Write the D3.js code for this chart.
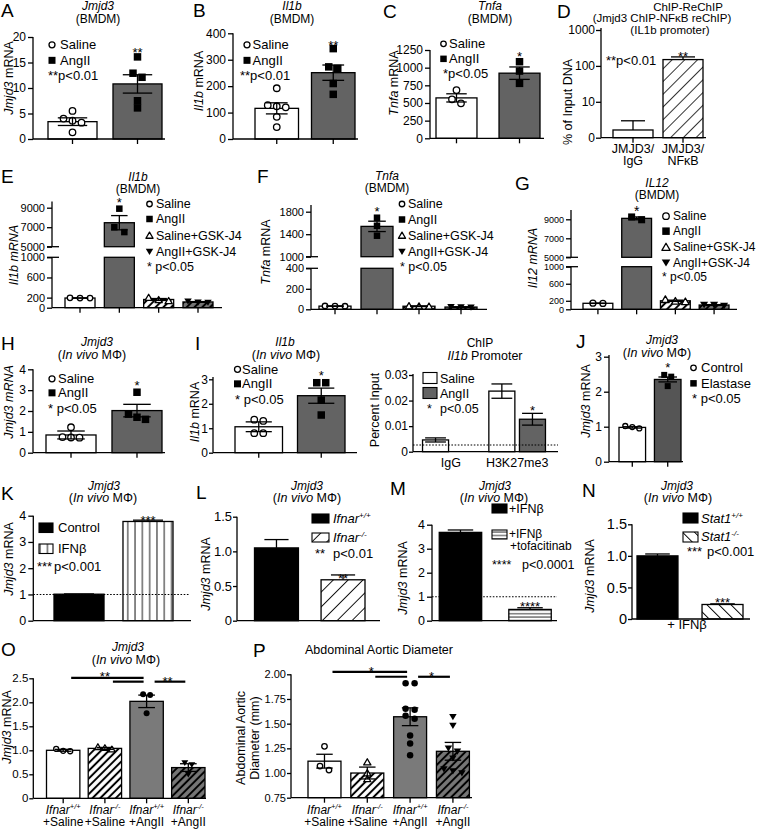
<!DOCTYPE html>
<html><head><meta charset="utf-8">
<script src="https://cdn.jsdelivr.net/npm/d3@7/dist/d3.min.js"></script>
<style>
html,body{margin:0;padding:0;background:#fff}
svg{display:block}
text{font-family:"Liberation Sans",Arial,Helvetica,sans-serif;fill:#000;white-space:pre}
</style></head><body>
<svg id="fig" width="763" height="829" viewBox="0 0 763 829"></svg>
<script>
// ================= DATA =================
const A_groups = ["Saline", "AngII"];
const A_means = [3.4, 10.8];
const A_sems = [0.75, 1.8];
const A_points = [[5.5, 4.0, 3.6, 3.2, 1.3], [16.1, 12.9, 12.1, 7.5, 6.1]];
const A_ticks = [0, 5, 10, 15, 20];

const B_groups = ["Saline", "AngII"];
const B_means = [116, 251];
const B_sems = [21, 29];
const B_points = [[192, 128, 124, 120, 84, 45], [342, 273, 267, 210, 169]];
const B_ticks = [0, 100, 200, 300, 400];

const C_groups = ["Saline", "AngII"];
const C_means = [572, 922];
const C_sems = [58, 88];
const C_points = [[683, 552, 495], [1084, 952, 778]];
const C_ticks = [0, 250, 500, 750, 1000, 1250];

const D_groups = ["JMJD3/IgG", "JMJD3/NFκB"];
const D_means = [1.64, 150];
const D_errTop = [2.96, 178];
const D_ticks = [1, 10, 100, 1000];
const D_tickLabels = ["0", "10", "100", "1000"];

const E_groups = ["Saline", "AngII", "Saline+GSK-J4", "AngII+GSK-J4"];
const E_means = [192, 7460, 163, 114];
const E_sems = [2, 730, 19, 8];
const E_points = [[190, 195, 191], [8900, 7000, 6500], [135, 200, 155], [105, 130, 108]];
const E_lowTicks = [0, 200, 600, 1000];
const E_highTicks = [5000, 7000, 9000];

const F_groups = ["Saline", "AngII", "Saline+GSK-J4", "AngII+GSK-J4"];
const F_means = [31, 1539, 30, 22];
const F_sems = [2, 92, 3, 3];
const F_points = [[30, 32, 31], [1693, 1550, 1373], [28, 32, 30], [20, 24, 22]];
const F_lowTicks = [0, 200, 400];
const F_highTicks = [1000, 1400, 1800];

const G_groups = ["Saline", "AngII", "Saline+GSK-J4", "AngII+GSK-J4"];
const G_means = [141, 9100, 200, 100];
const G_sems = [3, 150, 15, 10];
const G_points = [[139, 143], [8950, 9250], [190, 230, 180], [110, 85, 105]];
const G_lowTicks = [0, 200, 600, 1000];
const G_highTicks = [5000, 7000, 9000];

const H_groups = ["Saline", "AngII"];
const H_means = [0.85, 2.02];
const H_sems = [0.19, 0.3];
const H_points = [[1.22, 0.75, 0.72, 0.73], [2.9, 1.85, 1.7, 1.6]];
const H_ticks = [0, 1, 2, 3, 4];

const I_groups = ["Saline", "AngII"];
const I_means = [1.06, 2.33];
const I_sems = [0.2, 0.31];
const I_points = [[1.35, 1.3, 0.8, 0.8], [2.86, 2.86, 2.15, 1.54]];
const I_ticks = [0, 1, 2, 3];

const I2_groups = ["IgG", "H3K27me3"];
const I2_series = ["Saline", "AngII"];
const I2_means = [[0.0046, 0], [0.0237, 0.0127]];
const I2_sems = [[0.0008, 0], [0.0028, 0.0023]];
const I2_cutoff = 0.0026;
const I2_ticks = [0, 0.01, 0.02, 0.03];

const J_groups = ["Control", "Elastase"];
const J_means = [0.98, 2.35];
const J_sems = [0.02, 0.07];
const J_points = [[0.95, 1.02, 0.99], [2.48, 2.43, 2.16]];
const J_ticks = [0, 1, 2, 3];

const K_groups = ["Control", "IFNβ"];
const K_means = [1.01, 3.78];
const K_sems = [0.01, 0.05];
const K_ticks = [0, 1, 2, 3, 4];

const L_groups = ["Ifnar+/+", "Ifnar-/-"];
const L_means = [1.05, 0.59];
const L_sems = [0.12, 0.07];
const L_ticks = [0, 0.5, 1.0, 1.5];

const M_groups = ["+IFNβ", "+IFNβ +tofacitinab"];
const M_means = [3.68, 0.47];
const M_sems = [0.1, 0.07];
const M_ticks = [0, 1, 2, 3, 4];

const N_groups = ["Stat1+/+", "Stat1-/-"];
const N_means = [1.0, 0.23];
const N_sems = [0.03, 0.01];
const N_ticks = [0, 0.5, 1.0, 1.5];

const O_groups = ["Ifnar+/+ +Saline", "Ifnar-/- +Saline", "Ifnar+/+ +AngII", "Ifnar-/- +AngII"];
const O_means = [1.0, 1.04, 2.02, 0.64];
const O_sems = [0.02, 0.02, 0.13, 0.08];
const O_points = [[1.03, 0.99, 0.98], [1.07, 1.05, 1.02], [2.17, 2.15, 1.77], [0.74, 0.7, 0.5]];
const O_ticks = [0, 0.5, 1.0, 1.5, 2.0, 2.5];
const O_brackets = [[0, 2, 2.51], [1, 2, 2.43], [2, 3, 2.43]];

const P_groups = ["Ifnar+/+ +Saline", "Ifnar-/- +Saline", "Ifnar+/+ +AngII", "Ifnar-/- +AngII"];
const P_means = [1.12, 1.0, 1.57, 1.22];
const P_sems = [0.07, 0.06, 0.09, 0.09];
const P_points = [[1.27, 1.07, 1.03], [1.11, 1.0, 0.94], [1.91, 1.91, 1.65, 1.64, 1.58, 1.55, 1.38, 1.3, 1.18], [1.57, 1.48, 1.25, 1.22, 1.15, 1.04, 1.02, 1.0]];
const P_ticks = [0.75, 1.0, 1.25, 1.5, 1.75, 2.0];
const P_brackets = [[0, 2, 2.025], [1, 2, 1.975], [2, 3, 1.975]];

// ================= HELPERS =================
const svg = d3.select("#fig");
const defs = svg.append("defs");
const SW = 1.3;
const GREY = "#636363";

function hatch(id, angle, gap, lw, bg) {
  const p = defs.append("pattern").attr("id", id).attr("patternUnits", "userSpaceOnUse")
    .attr("width", gap).attr("height", gap).attr("patternTransform", `rotate(${angle})`);
  p.append("rect").attr("width", gap).attr("height", gap).attr("fill", bg);
  p.append("line").attr("x1", gap / 2).attr("x2", gap / 2).attr("y1", -1).attr("y2", gap + 1)
    .attr("stroke", "#000").attr("stroke-width", lw);
}
hatch("hD", 45, 9, 0.8, "#fff");
hatch("hK", 0, 7.3, 0.9, "#fff");
hatch("hL", 45, 10.5, 0.9, "#fff");
hatch("hM", 90, 3.4, 0.8, "#fff");
hatch("hN", -45, 8.5, 1, "#fff");
hatch("hW", 45, 5.5, 2, "#fff");
hatch("hG", 45, 5.5, 2, "#777");

function T(x, y, parts, o = {}) {
  const fs = o.fs || 12.5;
  const t = svg.append("text").attr("x", x).attr("y", y).attr("font-size", fs)
    .attr("text-anchor", o.a || "start");
  if (o.rot) t.attr("transform", `rotate(-90 ${x} ${y})`);
  if (typeof parts === "string") parts = [[parts, ""]];
  let cur = 0;
  parts.forEach(([s, st]) => {
    const sp = t.append("tspan").text(s);
    if (st.indexOf("i") >= 0) sp.attr("font-style", "italic");
    const sup = st.indexOf("s") >= 0;
    const tgt = sup ? -fs * 0.38 : 0;
    if (sup) sp.attr("font-size", fs * 0.62);
    if (tgt !== cur) { sp.attr("dy", tgt - cur); cur = tgt; }
  });
  return t;
}

function mark(g, shape, x, y, d) {
  const h = d / 2;
  if (shape === "o") g.append("circle").attr("cx", x).attr("cy", y).attr("r", h - 0.5)
    .attr("fill", "#fff").attr("stroke", "#000").attr("stroke-width", 1.3);
  else if (shape === "•") g.append("circle").attr("cx", x).attr("cy", y).attr("r", h).attr("fill", "#000");
  else if (shape === "s") g.append("rect").attr("x", x - h).attr("y", y - h).attr("width", d).attr("height", d).attr("fill", "#000");
  else if (shape === "^") g.append("path")
    .attr("d", `M${x},${y - h * 1.05}L${x + h * 1.1},${y + h * 0.85}L${x - h * 1.1},${y + h * 0.85}Z`)
    .attr("fill", "#fff").attr("stroke", "#000").attr("stroke-width", 1.3).attr("stroke-linejoin", "round");
  else if (shape === "v") g.append("path")
    .attr("d", `M${x},${y + h * 1.05}L${x + h * 1.15},${y - h * 0.85}L${x - h * 1.15},${y - h * 0.85}Z`)
    .attr("fill", "#000");
}

function swarm(vals, Y, d, sp) {
  const idx = vals.map((v, i) => i).sort((a, b) => vals[b] - vals[a]);
  const off = vals.map(() => 0);
  let cl = [];
  const flush = () => { cl.forEach((k, j) => off[k] = (j - (cl.length - 1) / 2) * sp); cl = []; };
  idx.forEach(k => {
    if (cl.length && Math.abs(Y(vals[k]) - Y(vals[cl[cl.length - 1]])) > d * 0.8) flush();
    cl.push(k);
  });
  flush();
  return off;
}

function L(g, x1, y1, x2, y2, w) {
  return g.append("line").attr("x1", x1).attr("y1", y1).attr("x2", x2).attr("y2", y2)
    .attr("stroke", "#000").attr("stroke-width", w || SW);
}

function yAxis(g, y, x0, ticks, fmt, fs, y0, y1, ts, tp) {
  const a = g.append("g").attr("transform", `translate(${x0},0)`)
    .call(d3.axisLeft(y).tickValues(ticks).tickFormat(fmt).tickSize(ts || 5).tickPadding(tp === undefined ? 2 : tp).tickSizeOuter(0));
  a.select(".domain").remove();
  a.attr("font-size", fs);
  a.selectAll(".tick line").attr("stroke", "#000").attr("stroke-width", SW);
  L(g, x0, y0, x0, y1);
}

function xAxis(g, x, y0, x0, x1, ticks) {
  L(g, x0, y0, x1, y0);
  if (ticks) {
    const a = g.append("g").attr("transform", `translate(0,${y0})`)
      .call(d3.axisBottom(x).tickSize(5).tickFormat("").tickSizeOuter(0));
    a.select(".domain").remove();
    a.selectAll("line").attr("stroke", "#000").attr("stroke-width", SW);
  }
}

function drawErr(g, cx, yt, yb, cw, both) {
  L(g, cx, yt, cx, yb);
  L(g, cx - cw / 2, yt, cx + cw / 2, yt);
  if (both) L(g, cx - cw / 2, yb, cx + cw / 2, yb);
}

function barPanel(o) {
  const g = svg.append("g");
  const x = d3.scaleBand().domain(o.groups).range(o.xr).paddingInner(o.pad).paddingOuter(0);
  const bw = x.bandwidth(), y = o.y;
  const base = o.base !== undefined ? o.base : y.domain()[0];
  const cx = i => x(o.groups[i]) + bw / 2;
  o.groups.forEach((k, i) => {
    const v = o.means[i];
    if (v > base) g.append("rect").attr("x", x(k)).attr("y", y(v)).attr("width", bw)
      .attr("height", y(base) - y(v)).attr("fill", o.fills[i]).attr("stroke", "#000").attr("stroke-width", SW);
  });
  if (o.ref !== undefined) L(g, o.yx, y(o.ref), o.refEnd || o.xEnd, y(o.ref), 1.1).attr("stroke-dasharray", "1.6,1.6");
  if (o.points) o.groups.forEach((k, i) => {
    const off = swarm(o.points[i], y, o.ms, o.sp);
    o.points[i].forEach((v, j) => mark(g, o.shapes[i], cx(i) + off[j], y(v), o.ms));
  });
  o.groups.forEach((k, i) => {
    const top = o.errTop ? o.errTop[i] : o.means[i] + o.sems[i];
    const bot = o.up ? o.means[i] : o.means[i] - o.sems[i];
    drawErr(g, cx(i), y(top), y(bot), bw * (o.cap || 0.5), !o.up);
  });
  yAxis(g, y, o.yx, o.ticks, o.fmt || (d => d), o.fs || 12, y(base), o.top !== undefined ? o.top : y.range()[1], o.ts, o.tp);
  xAxis(g, x, y(base), o.yx, o.xEnd, o.xt !== false);
  return { x, bw, cx, y, g };
}

function brokenPanel(o) {
  const g = svg.append("g");
  const x = d3.scaleBand().domain(o.groups).range(o.xr).paddingInner(o.pad).paddingOuter(0);
  const bw = x.bandwidth();
  const lo = o.lo, hi = o.hi, loMax = lo.domain()[1], hiMin = hi.domain()[0];
  const Y = v => (v <= loMax ? lo(v) : hi(v));
  const cx = i => x(o.groups[i]) + bw / 2;
  o.groups.forEach((k, i) => {
    const v = o.means[i], vl = Math.min(v, loMax);
    g.append("rect").attr("x", x(k)).attr("y", lo(vl)).attr("width", bw).attr("height", lo(0) - lo(vl))
      .attr("fill", o.fills[i]).attr("stroke", "#000").attr("stroke-width", SW);
    if (v > hiMin) g.append("rect").attr("x", x(k)).attr("y", hi(v)).attr("width", bw)
      .attr("height", hi(hiMin) - hi(v)).attr("fill", o.fills[i]).attr("stroke", "#000").attr("stroke-width", SW);
  });
  o.groups.forEach((k, i) => {
    const off = swarm(o.points[i], Y, o.ms, o.sp);
    o.points[i].forEach((v, j) => mark(g, o.shapes[i], cx(i) + off[j], Y(v), o.ms));
    drawErr(g, cx(i), Y(o.means[i] + o.sems[i]), Y(o.means[i] - o.sems[i]), bw * 0.55, true);
  });
  yAxis(g, lo, o.yx, o.lowTicks, d3.format("d"), o.fs, lo(0), lo(loMax));
  yAxis(g, hi, o.yx, o.highTicks, d3.format("d"), o.fs, hi(hiMin), o.top);
  [lo(loMax), hi(hiMin)].forEach(yy => L(g, o.yx - 5, yy, o.yx + 7, yy));
  xAxis(g, x, lo(0), o.yx, o.xEnd, true);
  return { x, bw, cx };
}

function legendRows(xs, xt, ys, items, fs, d) {
  items.forEach((it, i) => {
    if (it.shape) mark(svg, it.shape, xs, ys[i] - fs * 0.32, d);
    T(xt, ys[i], it.label, { fs });
  });
}
function box(x, y, w, h, fill) {
  svg.append("rect").attr("x", x).attr("y", y).attr("width", w).attr("height", h)
    .attr("fill", fill).attr("stroke", "#000").attr("stroke-width", 1.1);
}
const fmt1 = d => (d === 0 ? "0" : d3.format(".1f")(d));
const MPHI = [["(", ""], ["In vivo", "i"], [" MΦ)", ""]];
const LETTER = 19;
const TF = 12;

// ================= PANEL A =================
{
  const p = barPanel({ groups: A_groups, means: A_means, sems: A_sems, points: A_points, shapes: ["o", "s"],
    fills: ["#fff", GREY], y: d3.scaleLinear().domain([0, 20]).range([139, 37]), yx: 33, xEnd: 165,
    xr: [48, 162], pad: 0.246, ticks: A_ticks, fs: 12, ms: 7.5, sp: 9, cap: 0.6 });
  T(1, 17, "A", { fs: LETTER });
  T(98, 10, [["Jmjd3", "i"]], { a: "middle", fs: TF });
  T(98, 22.5, "(BMDM)", { a: "middle", fs: TF });
  T(13, 78, [["Jmjd3", "i"], [" mRNA", ""]], { rot: true, a: "middle" });
  legendRows(52, 60, [49, 64.5], [{ shape: "o", label: A_groups[0] }, { shape: "s", label: A_groups[1] }], 13, 7);
  T(48, 80, "**p<0.01", { fs: 13 });
  T(p.cx(1), 56.5, "**", { a: "middle", fs: 13 });
}
// ================= PANEL B =================
{
  const p = barPanel({ groups: B_groups, means: B_means, sems: B_sems, points: B_points, shapes: ["o", "s"],
    fills: ["#fff", GREY], y: d3.scaleLinear().domain([0, 400]).range([139, 33.3]), yx: 233, xEnd: 358,
    xr: [255, 355], pad: 0.23, ticks: B_ticks, fs: 12, ms: 7.5, sp: 9 });
  T(193, 17, "B", { fs: LETTER });
  T(292, 10, [["Il1b", "i"]], { a: "middle", fs: TF });
  T(292, 22.5, "(BMDM)", { a: "middle", fs: TF });
  T(203, 81, [["Il1b", "i"], [" mRNA", ""]], { rot: true, a: "middle" });
  legendRows(247, 252.5, [49, 64.5], [{ shape: "o", label: B_groups[0] }, { shape: "s", label: B_groups[1] }], 13, 7);
  T(240, 80, "**p<0.01", { fs: 13 });
  T(p.cx(1), 50, "**", { a: "middle", fs: 13 });
}
// ================= PANEL C =================
{
  const p = barPanel({ groups: C_groups, means: C_means, sems: C_sems, points: C_points, shapes: ["o", "s"],
    fills: ["#fff", GREY], y: d3.scaleLinear().domain([0, 1250]).range([138.3, 50]), yx: 430, xEnd: 544,
    xr: [436, 540], pad: 0.35, ticks: C_ticks, fs: 12, ms: 7.5, sp: 9 });
  T(383, 18, "C", { fs: LETTER });
  T(490, 10, [["Tnfa", "i"]], { a: "middle", fs: TF });
  T(490, 22.5, "(BMDM)", { a: "middle", fs: TF });
  T(398, 83, [["Tnfa", "i"], [" mRNA", ""]], { rot: true, a: "middle" });
  legendRows(443.5, 449, [48, 63], [{ shape: "o", label: C_groups[0] }, { shape: "s", label: C_groups[1] }], 13, 6.5);
  T(443, 78, "*p<0.05", { fs: 13 });
  T(p.cx(1), 60.5, "*", { a: "middle", fs: 13 });
}
// ================= PANEL D =================
{
  const p = barPanel({ groups: D_groups, means: D_means, errTop: D_errTop, up: true,
    fills: ["#fff", "url(#hD)"], y: d3.scaleLog().domain([1, 1000]).range([137.7, 30]), yx: 601, xEnd: 706,
    xr: [613, 703], pad: 0.2, ticks: D_ticks, fmt: (d, i) => D_tickLabels[i], fs: 12, top: 28, cap: 0.6, ts: 5, tp: 1 });
  T(557, 18, "D", { fs: LETTER });
  T(688, 10.5, "ChIP-ReChIP", { a: "middle", fs: 11.5 });
  T(662, 22, "(Jmjd3 ChIP-NFκB reChIP)", { a: "middle", fs: 11.5 });
  T(670, 33.5, "(IL1b promoter)", { a: "middle", fs: 11.5 });
  T(572, 102, "% of Input DNA", { rot: true, a: "middle" });
  D_groups.forEach((k, i) => {
    const parts = k.split("/");
    T(p.cx(i), 153, parts[0] + "/", { a: "middle" });
    T(p.cx(i), 165, parts[1], { a: "middle" });
  });
  T(606, 65, "**p<0.01", { fs: 13 });
  T(p.cx(1), 60.5, "**", { a: "middle", fs: 13 });
}
// ================= PANEL E =================
{
  const p = brokenPanel({ groups: E_groups, means: E_means, sems: E_sems, points: E_points, shapes: ["o", "s", "^", "v"],
    fills: ["#fff", GREY, "url(#hW)", "url(#hG)"],
    lo: d3.scaleLinear().domain([0, 1000]).range([307.7, 257.3]),
    hi: d3.scaleLinear().domain([5000, 9000]).range([246.7, 207.7]), top: 201.5,
    yx: 52, xEnd: 222, xr: [65, 213], pad: 0.237, lowTicks: E_lowTicks, highTicks: E_highTicks, fs: 11, ms: 6.5, sp: 10 });
  T(1, 183, "E", { fs: LETTER });
  T(138, 181, [["Il1b", "i"]], { a: "middle", fs: TF });
  T(138, 193, "(BMDM)", { a: "middle", fs: TF });
  T(18, 255, [["Il1b mRNA", "i"]], { rot: true, a: "middle" });
  legendRows(149.5, 156, [208, 223, 239.5, 255.5], E_groups.map((k, i) => ({ shape: ["o", "s", "^", "v"][i], label: k })), 12.5, 6.5);
  T(147, 271, "* p<0.05", { fs: 12.5 });
  T(p.cx(1), 207, "*", { a: "middle", fs: 13 });
}
// ================= PANEL F =================
{
  const p = brokenPanel({ groups: F_groups, means: F_means, sems: F_sems, points: F_points, shapes: ["o", "s", "^", "v"],
    fills: ["#fff", GREY, "url(#hW)", "url(#hG)"],
    lo: d3.scaleLinear().domain([0, 400]).range([309.3, 268.3]),
    hi: d3.scaleLinear().domain([1000, 1800]).range([256.7, 211.7]), top: 205,
    yx: 311, xEnd: 487, xr: [319, 477], pad: 0.238, lowTicks: F_lowTicks, highTicks: F_highTicks, fs: 11, ms: 6.5, sp: 10 });
  T(257, 183, "F", { fs: LETTER });
  T(387, 180, [["Tnfa", "i"]], { a: "middle", fs: TF });
  T(387, 192, "(BMDM)", { a: "middle", fs: TF });
  T(270, 252, [["Tnfa", "i"], [" mRNA", ""]], { rot: true, a: "middle" });
  legendRows(402, 408, [208, 223.5, 239.5, 255.5], F_groups.map((k, i) => ({ shape: ["o", "s", "^", "v"][i], label: k })), 12.5, 6.5);
  T(400, 271, "* p<0.05", { fs: 12.5 });
  T(p.cx(1), 216, "*", { a: "middle", fs: 13 });
}
// ================= PANEL G =================
{
  const p = brokenPanel({ groups: G_groups, means: G_means, sems: G_sems, points: G_points, shapes: ["o", "s", "^", "v"],
    fills: ["#fff", GREY, "url(#hW)", "url(#hG)"],
    lo: d3.scaleLinear().domain([0, 1000]).range([309.3, 266.7]),
    hi: d3.scaleLinear().domain([5000, 9000]).range([257.3, 219.3]), top: 210,
    yx: 571, xEnd: 737, xr: [583, 729], pad: 0.23, lowTicks: G_lowTicks, highTicks: G_highTicks, fs: 9, ms: 7, sp: 10 });
  T(515, 190, "G", { fs: LETTER });
  T(657, 186.5, [["IL12", "i"]], { a: "middle", fs: TF });
  T(657, 198.5, "(BMDM)", { a: "middle", fs: TF });
  T(537, 258, [["Il12 mRNA", "i"]], { rot: true, a: "middle" });
  legendRows(666, 673, [220, 235, 251, 266.5], G_groups.map((k, i) => ({ shape: ["o", "s", "^", "v"][i], label: k })), 12, 7.5);
  T(662, 281, "* p<0.05", { fs: 12 });
  T(p.cx(1), 216, "*", { a: "middle", fs: 14 });
}
// ================= PANEL H =================
{
  const p = barPanel({ groups: H_groups, means: H_means, sems: H_sems, points: H_points, shapes: ["o", "s"],
    fills: ["#fff", GREY], y: d3.scaleLinear().domain([0, 4]).range([452.7, 369.3]), yx: 33, xEnd: 165,
    xr: [46, 162], pad: 0.242, ticks: H_ticks, fs: 12, ms: 7.5, sp: 8.5, cap: 0.55 });
  T(1, 350, "H", { fs: LETTER });
  T(97, 346, [["Jmjd3", "i"]], { a: "middle", fs: TF });
  T(92, 359, MPHI, { a: "middle" });
  T(13, 402, [["Jmjd3 mRNA", "i"]], { rot: true, a: "middle" });
  legendRows(52, 58, [383, 397], [{ shape: "o", label: H_groups[0] }, { shape: "s", label: H_groups[1] }], 13, 7);
  T(48, 413, "* p<0.05", { fs: 13 });
  T(p.cx(1), 390, "*", { a: "middle", fs: 13 });
}
// ================= PANEL I =================
{
  const p = barPanel({ groups: I_groups, means: I_means, sems: I_sems, points: I_points, shapes: ["o", "s"],
    fills: ["#fff", GREY], y: d3.scaleLinear().domain([0, 3]).range([452.7, 379.3]), yx: 213, xEnd: 357,
    xr: [235, 345], pad: 0.24, ticks: I_ticks, fs: 12, ms: 7.5, sp: 9, top: 377, cap: 0.55, ts: 4, tp: 1 });
  T(195, 350, "I", { fs: LETTER });
  T(285, 346, [["Il1b", "i"]], { a: "middle", fs: TF });
  T(286, 359, MPHI, { a: "middle" });
  T(199, 412, [["Il1b", "i"], [" mRNA", ""]], { rot: true, a: "middle" });
  legendRows(237.5, 242, [373.5, 388], [{ shape: "o", label: I_groups[0] }, { shape: "s", label: I_groups[1] }], 13, 7);
  T(235, 403.5, "* p<0.05", { fs: 13 });
  T(p.cx(1), 380, "*", { a: "middle", fs: 13 });
}
// ================= PANEL I (ChIP) =================
{
  const g = svg.append("g");
  const y = d3.scaleLinear().domain([0, 0.03]).range([451.7, 375]);
  const gx = d3.scaleBand().domain(I2_groups).range([421, 547]).paddingInner(0.1).paddingOuter(0);
  const sx = d3.scaleBand().domain(I2_series).range([0, gx.bandwidth()]).paddingInner(0.15).paddingOuter(0.05);
  const fills = ["#fff", GREY];
  I2_groups.forEach((gk, gi) => I2_series.forEach((sk, si) => {
    const v = I2_means[gi][si];
    if (v <= 0) return;
    const x0 = gx(gk) + sx(sk);
    g.append("rect").attr("x", x0).attr("y", y(v)).attr("width", sx.bandwidth()).attr("height", y(0) - y(v))
      .attr("fill", fills[si]).attr("stroke", "#000").attr("stroke-width", SW);
    const c = x0 + sx.bandwidth() / 2, s = I2_sems[gi][si];
    drawErr(g, c, y(v + s), y(v - s), sx.bandwidth() * 0.8, true);
  }));
  L(g, 413, y(I2_cutoff), 558, y(I2_cutoff), 1.1).attr("stroke-dasharray", "1.6,1.6");
  yAxis(g, y, 413, I2_ticks, d => (d === 0 ? "0" : d3.format(".2f")(d)), 12, y(0), 374, 4, 1);
  L(g, 413, y(0), 558, y(0));
  I2_groups.forEach(gk => T(gx(gk) + gx.bandwidth() / 2, 467, gk, { a: "middle" }));
  T(480, 346.5, "ChIP", { a: "middle", fs: TF });
  T(485, 359.5, [["Il1b", "i"], [" Promoter", ""]], { a: "middle" });
  T(379, 410, "Percent Input", { rot: true, a: "middle" });
  box(423, 372.5, 14, 11, "#fff"); T(440, 383, I2_series[0], { fs: 12.5 });
  box(423, 387.5, 14, 11, GREY); T(440, 398, I2_series[1], { fs: 12.5 });
  T(427, 413, "*", { fs: 12.5 }); T(440, 413, "p<0.05", { fs: 12.5 });
  T(gx("H3K27me3") + sx("AngII") + sx.bandwidth() / 2, 415, "*", { a: "middle", fs: 13 });
}
// ================= PANEL J =================
{
  const p = barPanel({ groups: J_groups, means: J_means, sems: J_sems, points: J_points, shapes: ["o", "s"],
    fills: ["#fff", "#555"], y: d3.scaleLinear().domain([0, 3]).range([461.7, 356.7]), yx: 609, xEnd: 683,
    xr: [619, 681], pad: 0.25, ticks: J_ticks, fs: 12, ms: 6, sp: 7, cap: 0.7, top: 355 });
  T(576, 348, "J", { fs: LETTER });
  T(662, 344, [["Jmjd3", "i"]], { a: "middle", fs: TF });
  T(657, 356.5, MPHI, { a: "middle" });
  T(590, 401, [["Jmjd3", "i"], [" mRNA", ""]], { rot: true, a: "middle" });
  legendRows(693.5, 701, [372, 387.5], [{ shape: "o", label: J_groups[0] }, { shape: "s", label: J_groups[1] }], 13, 6.5);
  T(692, 403, "* p<0.05", { fs: 13 });
  T(p.cx(1), 372, "*", { a: "middle", fs: 13 });
}
// ================= PANEL K =================
{
  const p = barPanel({ groups: K_groups, means: K_means, sems: K_sems, up: true,
    fills: ["#000", "url(#hK)"], y: d3.scaleLinear().domain([0, 4]).range([620.7, 515.7]), yx: 33.3, xEnd: 191,
    xr: [54, 173], pad: 0.275, ticks: K_ticks, fs: 12.5, ref: 1, refEnd: 190, xt: false, cap: 0.6 });
  T(1, 500, "K", { fs: LETTER });
  T(104, 490, [["Jmjd3", "i"]], { a: "middle", fs: TF });
  T(103, 502, MPHI, { a: "middle" });
  T(13, 559, [["Jmjd3", "i"], [" mRNA", ""]], { rot: true, a: "middle" });
  box(39, 523, 14, 9.5, "#000"); T(58, 532, K_groups[0], { fs: 13 });
  box(39, 544, 14, 9.5, "url(#hK)"); T(58, 553, K_groups[1], { fs: 13 });
  T(37, 571, "***", { fs: 13 }); T(54, 571, "p<0.001", { fs: 13 });
  T(p.cx(1), 525, "***", { a: "middle", fs: 13 });
}
// ================= PANEL L =================
{
  const p = barPanel({ groups: L_groups, means: L_means, sems: L_sems, up: true,
    fills: ["#000", "url(#hL)"], y: d3.scaleLinear().domain([0, 1.5]).range([620.7, 516.7]), yx: 237, xEnd: 380,
    xr: [254.5, 365], pad: 0.34, ticks: L_ticks, fmt: fmt1, fs: 13, xt: false, cap: 0.55, ts: 4, tp: 1 });
  T(196, 499, "L", { fs: LETTER });
  T(307, 490, [["Jmjd3", "i"]], { a: "middle", fs: TF });
  T(307, 502, MPHI, { a: "middle" });
  T(210, 574, [["Jmjd3", "i"], [" mRNA", ""]], { rot: true, a: "middle" });
  box(312, 514, 17, 9, "#000"); T(333, 523, [["Ifnar", "i"], ["+/+", "is"]], { fs: 13 });
  box(312, 533, 17, 9, "url(#hL)"); T(333, 542, [["Ifnar", "i"], ["-/-", "is"]], { fs: 13 });
  T(315, 558, "**", { fs: 13 }); T(333, 558, "p<0.01", { fs: 13 });
  T(p.cx(1), 583, "**", { a: "middle", fs: 13 });
}
// ================= PANEL M =================
{
  const p = barPanel({ groups: M_groups, means: M_means, sems: M_sems, up: true,
    fills: ["#000", "url(#hM)"], y: d3.scaleLinear().domain([0, 4]).range([620.7, 524.7]), yx: 432, xEnd: 557,
    xr: [439.25, 551.25], pad: 0.39, ticks: M_ticks, fs: 12.5, ref: 1, xt: false, cap: 0.6 });
  T(390, 495, "M", { fs: LETTER });
  T(495, 490, [["Jmjd3", "i"]], { a: "middle", fs: TF });
  T(494, 502, MPHI, { a: "middle" });
  T(407, 578, [["Jmjd3", "i"], [" mRNA", ""]], { rot: true, a: "middle" });
  box(492, 504, 15, 9, "#000"); T(509, 513, M_groups[0], { fs: 12.5 });
  box(492, 530, 15, 9, "url(#hM)");
  const m2 = M_groups[1].split(" ");
  T(509, 538, m2[0], { fs: 12 }); T(510, 550, m2[1], { fs: 12 });
  T(492, 569, "****", { fs: 12.5 }); T(522, 569, "p<0.0001", { fs: 12.5 });
  T(p.cx(1), 611, "****", { a: "middle", fs: 13 });
}
// ================= PANEL N =================
{
  const p = barPanel({ groups: N_groups, means: N_means, sems: N_sems, up: true,
    fills: ["#000", "url(#hN)"], y: d3.scaleLinear().domain([0, 1.5]).range([619, 524.3]), yx: 632, xEnd: 750,
    xr: [637, 743], pad: 0.37, ticks: N_ticks, fmt: fmt1, fs: 14.5, xt: false, cap: 0.6, ts: 4, tp: 1 });
  T(582, 497, "N", { fs: LETTER });
  T(677, 490, [["Jmjd3", "i"]], { a: "middle", fs: TF });
  T(678, 502, MPHI, { a: "middle" });
  T(594, 576, [["Jmjd3", "i"], [" mRNA", ""]], { rot: true, a: "middle" });
  box(683, 513, 15, 10, "#000"); T(701, 523, [["Stat1", "i"], ["+/+", "is"]], { fs: 13 });
  box(683, 532, 15, 10, "url(#hN)"); T(701, 541, [["Stat1", "i"], ["-/-", "is"]], { fs: 13 });
  T(687, 556, "***", { fs: 13 }); T(707, 556, "p<0.001", { fs: 13 });
  T(p.cx(1), 607, "***", { a: "middle", fs: 13 });
  T(687, 629, "+ IFNβ", { a: "middle", fs: 13 });
}
// ================= PANEL O =================
function groupLabels(p, groups, y1, y2) {
  groups.forEach((k, i) => {
    const [gt, tr] = k.split(" ");
    T(p.cx(i), y1, [["Ifnar", "i"], [gt.replace("Ifnar", ""), "is"]], { a: "middle", fs: 12 });
    T(p.cx(i), y2, tr, { a: "middle", fs: 12 });
  });
}
function brackets(p, list, inset0, inset1) {
  list.forEach(([a, b, v]) => L(p.g, p.cx(a) + inset0, p.y(v), p.cx(b) - inset1, p.y(v), 2.2));
}
{
  const p = barPanel({ groups: O_groups, means: O_means, sems: O_sems, points: O_points, shapes: ["o", "^", "•", "v"],
    fills: ["#fff", "url(#hW)", "#7a7a7a", "url(#hG)"], y: d3.scaleLinear().domain([0, 2.5]).range([798.3, 678.3]),
    yx: 33.3, xEnd: 206, xr: [46.5, 205], pad: 0.2, ticks: O_ticks, fmt: fmt1, fs: 11.5, ms: 6, sp: 7, cap: 0.5, ts: 4, tp: 1 });
  brackets(p, O_brackets, 8, 3);
  T(1, 656, "O", { fs: LETTER });
  T(128, 651, [["Jmjd3", "i"]], { a: "middle", fs: TF });
  T(126, 664, MPHI, { a: "middle" });
  T(11, 727, [["Jmjd3", "i"], [" mRNA", ""]], { rot: true, a: "middle" });
  groupLabels(p, O_groups, 814, 826);
  T((p.cx(0) + p.cx(2)) / 2, 681, "**", { a: "middle", fs: 13 });
  T((p.cx(2) + p.cx(3)) / 2, 686, "**", { a: "middle", fs: 13 });
}
// ================= PANEL P =================
{
  const p = barPanel({ groups: P_groups, means: P_means, sems: P_sems, points: P_points, shapes: ["o", "^", "•", "v"],
    fills: ["#fff", "url(#hW)", "#7a7a7a", "url(#hG)"], y: d3.scaleLinear().domain([0.75, 2.0]).range([797.7, 674.3]),
    yx: 291, xEnd: 472, xr: [308, 469.4], pad: 0.23, ticks: P_ticks, fmt: d3.format(".2f"), fs: 11, ms: 6.5, sp: 9, cap: 0.5, ts: 4, tp: 1 });
  brackets(p, P_brackets, 8, 3);
  T(253, 657, "P", { fs: LETTER });
  T(379, 654, "Abdominal Aortic Diameter", { a: "middle", fs: 12.5 });
  T(245, 738, "Abdominal Aortic", { rot: true, a: "middle", fs: 12.5 });
  T(259, 738, "Diameter (mm)", { rot: true, a: "middle", fs: 12.5 });
  groupLabels(p, P_groups, 814, 826);
  T((p.cx(0) + p.cx(2)) / 2 + 4, 675.5, "*", { a: "middle", fs: 13 });
  T((p.cx(2) + p.cx(3)) / 2, 681, "*", { a: "middle", fs: 13 });
}
</script>
</body></html>
